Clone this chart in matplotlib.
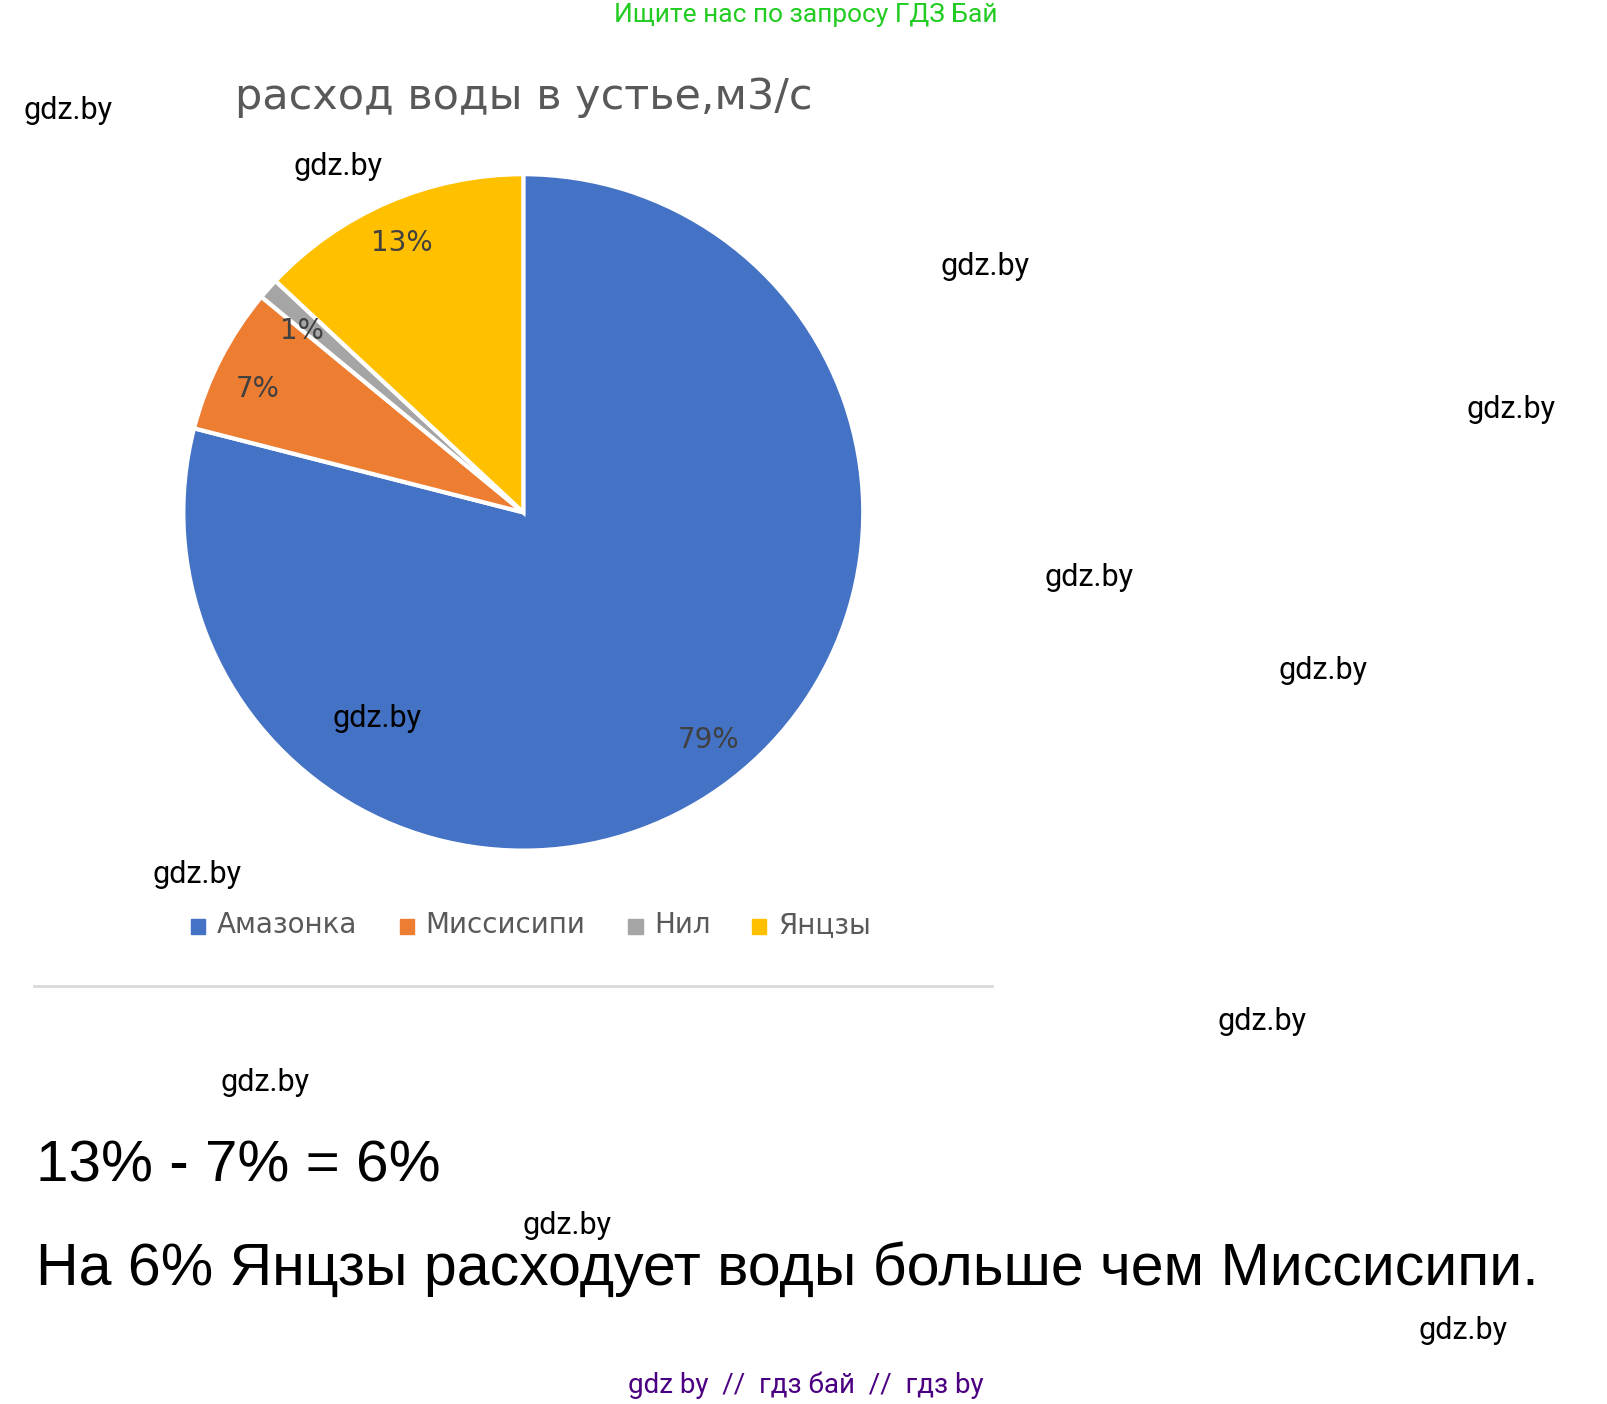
import matplotlib
matplotlib.use("Agg")
import matplotlib.pyplot as plt

labels = ["Амазонка", "Миссисипи", "Нил", "Янцзы"]
shares = [79, 7, 1, 13]
colors = ["#4472C4", "#ED7D31", "#A5A5A5", "#FFC000"]

W, H = 1560, 1370
fig = plt.figure(figsize=(16.07, 14.04), dpi=100)
fig.patch.set_facecolor("white")

def fx(x): return x / W
def fy(y): return 1 - y / H

# pie
cx, cy, r = 508, 500, 330
ax = fig.add_axes([fx(cx - r), fy(cy + r), 2 * r / W, 2 * r / H])
wedges, _ = ax.pie(shares, colors=colors, startangle=90, counterclock=False,
                   wedgeprops=dict(edgecolor="white", linewidth=3))
ax.set_xlim(-1, 1)
ax.set_ylim(-1, 1)
ax.set_aspect("auto")
ax.axis("off")

pct_pos = [(688, 722), (250, 380), (293, 323), (390, 237)]
for s, (x, y) in zip(shares, pct_pos):
    fig.text(fx(x), fy(y), f"{s}%", fontsize=20, color="#404040", ha="center", va="center")

fig.text(fx(508), fy(95), "расход воды в устье,м3/с", fontsize=31, color="#595959",
         ha="center", va="center")

# legend
leg_x = [185, 388, 610, 730]
for lab, c, x in zip(labels, colors, leg_x):
    fig.patches.append(plt.Rectangle((fx(x), fy(911)), 14 / W, 14 / H, color=c,
                                     transform=fig.transFigure))
    fig.text(fx(x + 25), fy(903), lab, fontsize=20, color="#595959", va="center")

fig.add_artist(plt.Line2D([fx(33), fx(963)], [fy(962), fy(962)], color="#D9D9D9", lw=2))

fig.text(fx(782), fy(15), "Ищите нас по запросу ГДЗ Бай", fontsize=19, color="#22CC22",
         ha="center", va="center", family="Roboto")

wm = [(66, 108), (328, 162), (956, 260), (1467, 400), (1057, 564), (1284, 654),
      (366, 701), (191, 853), (1225, 997), (257, 1056), (550, 1196), (1420, 1298)]
for x, y in wm:
    fig.text(fx(x), fy(y), "gdz.by", fontsize=22, color="black", ha="center", va="center",
             family="Roboto")

fig.text(fx(35), fy(1138), "13% - 7% = 6%", fontsize=42, va="center", family="Liberation Sans")
fig.text(fx(35), fy(1238), "На 6% Янцзы расходует воды больше чем Миссисипи.", fontsize=42.5,
         va="center", family="Liberation Sans")
fig.text(fx(782), fy(1352), "gdz by  //  гдз бай  //  гдз by", fontsize=20, color="#4B0082",
         ha="center", va="center", family="Roboto")

fig.savefig("out.png", dpi=100)
